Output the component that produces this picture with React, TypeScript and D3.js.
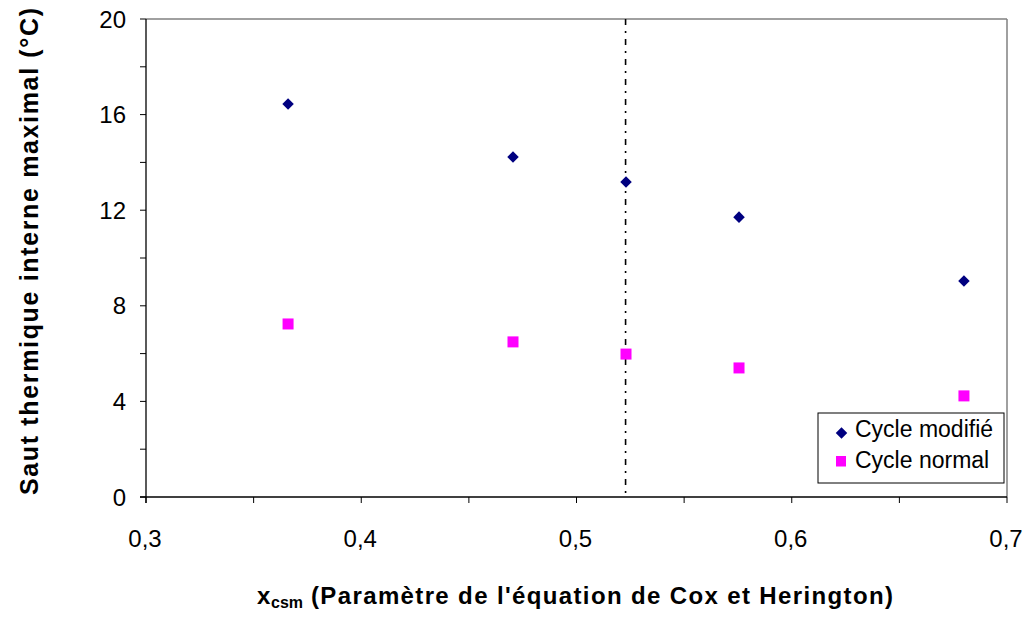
import React from "react";
import * as d3 from "d3";

const xValues = [0.366, 0.4705, 0.523, 0.5755, 0.68];
const cycleModifie = [16.44, 14.23, 13.18, 11.71, 9.04];
const cycleNormal = [7.24, 6.49, 5.98, 5.4, 4.23];
const xTicks = [0.3, 0.4, 0.5, 0.6, 0.7];
const yTicks = [0, 4, 8, 12, 16, 20];
const xMinor = [0.35, 0.45, 0.55, 0.65];
const yMinor = [2, 6, 10, 14, 18];
const refLineX = 0.5228;
const seriesNames = ["Cycle modifié", "Cycle normal"];

const W = 1029;
const H = 619;
const L = 146, R = 1007, T = 19, B = 497;
const FONT = "'Liberation Sans', Arial, sans-serif";

export default function App() {
  const x = d3.scaleLinear().domain([0.3, 0.7]).range([L, R]);
  const y = d3.scaleLinear().domain([0, 20]).range([B, T]);
  const fmt = (v: number) => v.toFixed(1).replace(".", ",");
  const diamond = d3.symbol().type(d3.symbolDiamond2).size(85)();
  return (
    <svg width={W} height={H} style={{ position: "absolute", left: 0, top: 0, background: "#fff" }}>
      {/* frame */}
      <line x1={L} x2={R} y1={T} y2={T} stroke="#808080" strokeWidth={1.5} />
      <line x1={R} x2={R} y1={T} y2={B} stroke="#808080" strokeWidth={1.5} />
      <line x1={L} x2={L} y1={T} y2={B + 6} stroke="#000" strokeWidth={1.3} />
      <line x1={L - 6} x2={R} y1={B} y2={B} stroke="#000" strokeWidth={1.3} />
      {/* y ticks */}
      {yTicks.map((t) => (
        <g key={"y" + t}>
          <line x1={L - 6} x2={L} y1={y(t)} y2={y(t)} stroke="#000" />
          <text x={126} y={y(t)} dy="0.36em" textAnchor="end" fontFamily={FONT} fontSize={24}>{t}</text>
        </g>
      ))}
      {yMinor.map((t) => (
        <line key={"ym" + t} x1={L - 6} x2={L} y1={y(t)} y2={y(t)} stroke="#000" />
      ))}
      {/* x ticks */}
      {xTicks.map((t) => (
        <g key={"x" + t}>
          <line x1={x(t)} x2={x(t)} y1={B} y2={B + 6} stroke="#000" />
          <text x={x(t) - 1} y={547} textAnchor="middle" fontFamily={FONT} fontSize={24}>{fmt(t)}</text>
        </g>
      ))}
      {xMinor.map((t) => (
        <line key={"xm" + t} x1={x(t)} x2={x(t)} y1={B} y2={B + 6} stroke="#000" />
      ))}
      {/* reference line */}
      <line x1={x(refLineX)} x2={x(refLineX)} y1={T} y2={B} stroke="#000" strokeWidth={1.6} strokeDasharray="6,6,2,6" />
      {/* series */}
      {xValues.map((xv, i) => (
        <path key={"m" + i} d={diamond!} transform={`translate(${x(xv)},${y(cycleModifie[i])})`} fill="#000080" />
      ))}
      {xValues.map((xv, i) => (
        <rect key={"n" + i} x={x(xv) - 5.5} y={y(cycleNormal[i]) - 5.5} width={11} height={11} fill="#FF00FF" />
      ))}
      {/* legend */}
      <rect x={818} y={413} width={186} height={70} fill="#fff" stroke="#000" strokeWidth={1} />
      <path d={diamond!} transform="translate(841.5,433)" fill="#000080" />
      <text x={855} y={437} fontFamily={FONT} fontSize={23}>{seriesNames[0]}</text>
      <rect x={836} y={456} width={10} height={10.5} fill="#FF00FF" />
      <text x={855} y={468} fontFamily={FONT} fontSize={23}>{seriesNames[1]}</text>
      {/* axis titles */}
      <text x={257} y={604} fontFamily={FONT} fontSize={24} fontWeight="bold">x</text>
      <text x={271} y={608} fontFamily={FONT} fontSize={16} fontWeight="bold" textLength={32} lengthAdjust="spacingAndGlyphs">csm</text>
      <text x={311} y={604} fontFamily={FONT} fontSize={24} fontWeight="bold" textLength={582} lengthAdjust="spacing">
        (Paramètre de l'équation de Cox et Herington)
      </text>
      <text transform="translate(38,495) rotate(-90)" fontFamily={FONT} fontSize={25} fontWeight="bold" textLength={487} lengthAdjust="spacing">
        Saut thermique interne maximal (°C)
      </text>
    </svg>
  );
}
